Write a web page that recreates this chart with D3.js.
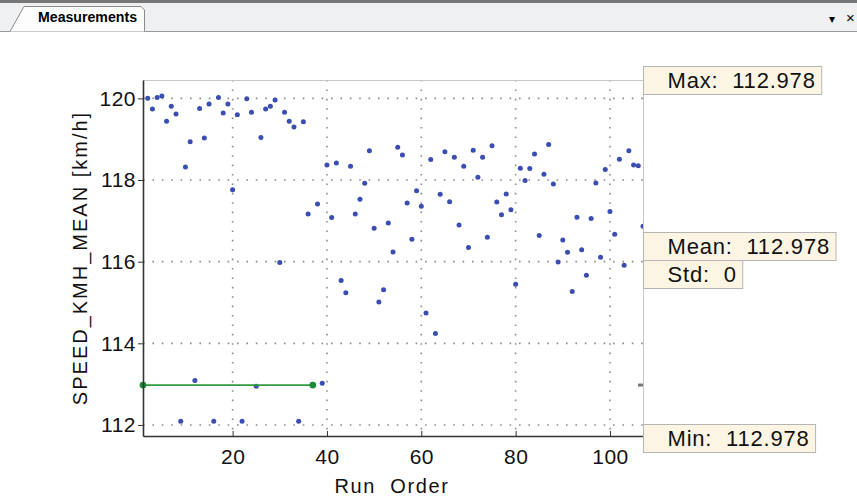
<!DOCTYPE html>
<html>
<head>
<meta charset="utf-8">
<script src="https://cdn.jsdelivr.net/npm/d3@7"></script>
<style>
  body { margin: 0; background: #fff; }
  svg { display: block; font-family: "Liberation Sans", Arial, sans-serif; }
</style>
</head>
<body>
<svg id="chart" width="857" height="499"></svg>
<script>
/* ---------------- data ---------------- */
var runOrder = [2, 3, 4, 5, 6, 7, 8, 9, 10, 11, 12, 13, 14, 15, 16, 17, 18, 19, 20,
  21, 22, 23, 24, 25, 26, 27, 28, 29, 30, 31, 32, 33, 34, 35, 36, 38, 39, 40,
  41, 42, 43, 44, 45, 46, 47, 48, 49, 50, 51, 52, 53, 54, 55, 56, 57, 58, 59, 60,
  61, 62, 63, 64, 65, 66, 67, 68, 69, 70, 71, 72, 73, 74, 75, 76, 77, 78, 79, 80,
  81, 82, 83, 84, 85, 86, 87, 88, 89, 90, 91, 92, 93, 94, 95, 96, 97, 98, 99, 100,
  101, 102, 103, 104, 105, 106, 107];
var speedMean = [120.00, 119.74, 120.02, 120.06, 119.44, 119.81, 119.62, 112.09, 118.32, 118.94,
  113.09, 119.75, 119.03, 119.86, 112.09, 120.02, 119.64, 119.86, 117.76,
  119.60, 112.09, 119.99, 119.66, 112.95, 119.04, 119.74, 119.81, 119.96, 115.98, 119.66,
  119.44, 119.30, 112.09, 119.43, 117.17, 117.41, 113.02, 118.37,
  117.08, 118.42, 115.54, 115.24, 118.34, 117.17, 117.53, 117.92, 118.72, 116.82,
  115.01, 115.31, 116.95, 116.24, 118.80, 118.61, 117.44, 116.55, 117.74, 117.36,
  114.74, 118.50, 114.24, 117.65, 118.69, 117.47, 118.56, 116.90, 118.34, 116.35,
  118.73, 118.07, 118.56, 116.60, 118.84, 117.46, 117.15, 117.66, 117.27, 115.45,
  118.29, 117.99, 118.28, 118.64, 116.64, 118.14, 118.87, 117.90, 115.99, 116.53,
  116.23, 115.27, 117.09, 116.29, 115.67, 117.06, 117.93, 116.11, 118.26, 117.23,
  116.67, 118.51, 115.91, 118.72, 118.37, 118.35, 116.87];

// green reference segment (run 1 .. run 37)
var refRuns = [1, 37];
var refValue = 112.978;

var xTicks = [20, 40, 60, 80, 100];
var yTicks = [112, 114, 116, 118, 120];

var statLabels = ["Max:  112.978", "Mean:  112.978", "Std:  0", "Min:  112.978"];
var statTops = [66, 232, 260, 424];

/* ---------------- layout ---------------- */
var svg = d3.select("#chart");
var plotLeft = 143, plotRight = 643, plotTop = 80, plotBottom = 436;

var x = d3.scaleLinear().domain([1, 107]).range([plotLeft, plotRight]);
var y = d3.scaleLinear().domain([111.73, 120.45]).range([plotBottom, plotTop]);

/* ---------------- tab strip ---------------- */
svg.append("rect").attr("x", 0).attr("y", 0).attr("width", 857).attr("height", 31)
  .attr("fill", "#eef0f2");
svg.append("rect").attr("x", 0).attr("y", 0).attr("width", 857).attr("height", 3)
  .attr("fill", "#777");
svg.append("line").attr("x1", 0).attr("x2", 857).attr("y1", 31.5).attr("y2", 31.5)
  .attr("stroke", "#9a9a9a");
svg.append("path")
  .attr("d", "M10,31.5 L24,6.5 L141,6.5 L144.5,10 L144.5,31.5")
  .attr("fill", "#fdfdfd").attr("stroke", "#8a8a8a");
svg.append("text").attr("x", 38).attr("y", 22)
  .attr("font-size", 14).attr("font-weight", "bold")
  .attr("textLength", 99).attr("lengthAdjust", "spacingAndGlyphs")
  .text("Measurements");
svg.append("text").attr("x", 829).attr("y", 23).attr("font-size", 12).text("\u25BE");
svg.append("text").attr("x", 846).attr("y", 23).attr("font-size", 15).text("\u00D7");

/* ---------------- grid ---------------- */
var grid = svg.append("g").attr("stroke", "#8c8c8c").attr("stroke-width", 1.6)
  .attr("stroke-dasharray", "1.6,7.8");
grid.selectAll(".gx").data(xTicks).enter().append("line")
  .attr("x1", function(d) { return x(d); }).attr("x2", function(d) { return x(d); })
  .attr("y1", plotTop).attr("y2", plotBottom);
grid.selectAll(".gy").data(yTicks).enter().append("line")
  .attr("x1", plotLeft).attr("x2", plotRight)
  .attr("y1", function(d) { return y(d); }).attr("y2", function(d) { return y(d); });

// light frame top / right
svg.append("path")
  .attr("d", "M" + plotLeft + "," + (plotTop + 0.5) + " H" + (plotRight + 0.5) + " V" + plotBottom)
  .attr("fill", "none").attr("stroke", "#c8c8c8");

/* ---------------- marks ---------------- */
svg.append("clipPath").attr("id", "plotclip").append("rect")
  .attr("x", plotLeft).attr("y", plotTop)
  .attr("width", plotRight - plotLeft).attr("height", plotBottom - plotTop);

var plot = svg.append("g").attr("clip-path", "url(#plotclip)");

plot.selectAll(".pt").data(runOrder).enter().append("circle")
  .attr("class", "pt")
  .attr("cx", function(d) { return x(d); })
  .attr("cy", function(d, i) { return y(speedMean[i]); })
  .attr("r", 2.5)
  .attr("fill", "#3a4db0");

svg.append("line")
  .attr("x1", x(refRuns[0])).attr("x2", x(refRuns[1]))
  .attr("y1", y(refValue)).attr("y2", y(refValue))
  .attr("stroke", "#2f9a40").attr("stroke-width", 1.8);
svg.selectAll(".refpt").data(refRuns).enter().append("circle")
  .attr("cx", function(d) { return x(d); })
  .attr("cy", y(refValue))
  .attr("r", 3.4)
  .attr("fill", "#1f8a36");

// small grey marker at the right edge
svg.append("rect").attr("x", plotRight - 5).attr("y", y(refValue) - 1.5)
  .attr("width", 5).attr("height", 3).attr("fill", "#777");

/* ---------------- axes ---------------- */
var xAxis = svg.append("g").attr("transform", "translate(0," + plotBottom + ")")
  .call(d3.axisBottom(x).tickValues(xTicks).tickSizeInner(-5).tickSizeOuter(0).tickPadding(13));
var yAxis = svg.append("g").attr("transform", "translate(" + plotLeft + ",0)")
  .call(d3.axisLeft(y).tickValues(yTicks).tickSizeInner(5).tickSizeOuter(0).tickPadding(2));

[xAxis, yAxis].forEach(function(a) {
  a.select(".domain").attr("stroke", "#333").attr("stroke-width", 1.6);
  a.selectAll(".tick line").attr("stroke", "#333");
  a.selectAll(".tick text").attr("font-size", 21).attr("fill", "#111")
    .attr("font-family", "Liberation Sans, Arial, sans-serif")
    .style("letter-spacing", "0.5px");
});

svg.append("text").attr("x", 392).attr("y", 493)
  .attr("text-anchor", "middle").attr("font-size", 20)
  .style("letter-spacing", "1.6px").style("white-space", "pre")
  .attr("fill", "#111")
  .text("Run  Order");

svg.append("text")
  .attr("transform", "translate(87,258) rotate(-90)")
  .attr("text-anchor", "middle").attr("font-size", 20)
  .style("letter-spacing", "2px")
  .attr("fill", "#111")
  .text("SPEED_KMH_MEAN [km/h]");

/* ---------------- stat boxes ---------------- */
statLabels.forEach(function(lbl, i) {
  var g = svg.append("g").attr("transform", "translate(" + (plotRight + 0.5) + "," + (statTops[i] + 0.5) + ")");
  var r = g.append("rect").attr("height", 28)
    .attr("fill", "#fcf5e4").attr("stroke", "#b5b5b5");
  var t = g.append("text").attr("x", 24).attr("y", 21)
    .attr("font-size", 22).style("letter-spacing", "0.8px").style("white-space", "pre")
    .attr("fill", "#111")
    .text(lbl);
  r.attr("width", t.node().getComputedTextLength() + 30);
});
</script>
</body>
</html>
